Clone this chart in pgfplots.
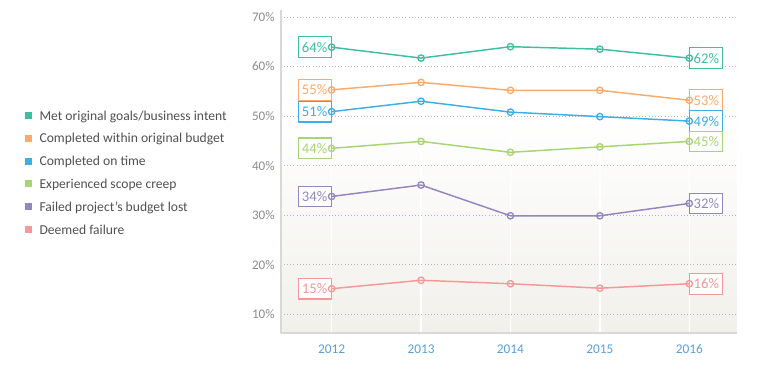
\documentclass[border=0pt]{standalone}
\usepackage{pgfplots}
\pgfplotsset{compat=1.18}
\usepackage{fontspec}
\setmainfont{Carlito}
\definecolor{c1}{HTML}{3EBFA1}
\definecolor{c2}{HTML}{FBAA6B}
\definecolor{c3}{HTML}{3DAEE6}
\definecolor{c4}{HTML}{A8D474}
\definecolor{c5}{HTML}{9287BE}
\definecolor{c6}{HTML}{F59896}
\definecolor{txt}{HTML}{505050}
\definecolor{ytk}{HTML}{8A8A8A}
\definecolor{xtk}{HTML}{5A9FD4}
\definecolor{axl}{HTML}{D8D8D8}
\definecolor{bgb}{HTML}{F1F0EB}
\definecolor{grd}{HTML}{B5B5B5}
\begin{document}
\begin{tikzpicture}
\begin{axis}[
  at={(210.5pt,29.75pt)}, anchor=south west,
  scale only axis, width=342pt, height=242.5pt,
  set layers,
  xmin=2011.43, xmax=2016.53, ymin=6.2, ymax=71.4,
  axis x line=bottom, axis y line=left,
  axis line style={axl, line width=1.6pt, -},
  xtick={2012,2013,2014,2015,2016},
  ytick={10,20,30,40,50,60,70},
  major tick length=0pt,
  /pgf/number format/assume math mode=true,
  xticklabel={\pgfmathprintnumber[1000 sep={}]{\tick}},
  yticklabel={\pgfmathprintnumber{\tick}\%},
  xticklabel style={font=\fontsize{10}{11}\selectfont, text=xtk, yshift=-5pt},
  yticklabel style={font=\fontsize{9.8}{11}\selectfont, text=ytk, xshift=-1pt},
  xmajorgrids, ymajorgrids,
  x grid style={white, line width=1pt},
  y grid style={dotted, grd, line width=0.6pt},
  legend image code/.code={\fill[#1, draw=none] (0pt,-2.6pt) rectangle (5.2pt,2.6pt);},
  legend cell align=left,
  legend style={at={(-0.5607,0.693)}, anchor=north west, draw=none, fill=none,
    inner sep=0pt, row sep=8.1pt, font=\fontsize{10.2}{12}\selectfont, text=txt,
    nodes={inner sep=0pt, text height=8pt, text depth=1pt},
    /tikz/every odd column/.append style={column sep=5.5pt}},
  every axis plot/.append style={line width=1.1pt, mark=o, mark size=2.4pt, mark options={fill=white, solid, line width=1pt}},
  lbl/.style={only marks, mark=none, point meta=explicit symbolic, nodes near coords,
    every node near coord/.append style={draw=#1, fill=white, text=#1, line width=0.8pt,
      minimum width=24.75pt, minimum height=15.5pt, inner sep=0pt,
      font=\fontsize{11}{12}\selectfont}},
  lblL/.style={lbl=#1, every node near coord/.append style={anchor=east}},
  lblR/.style={lbl=#1, every node near coord/.append style={anchor=west}},
]
\pgfplotsextra{%
  \begin{pgfonlayer}{axis background}
  \shade[top color=white, bottom color=bgb] (axis cs:2011.43,6.2) rectangle (axis cs:2016.53,50);
  \end{pgfonlayer}}
\addlegendimage{fill=c1}\addlegendentry{Met original goals/business intent}
\addlegendimage{fill=c2}\addlegendentry{Completed within original budget}
\addlegendimage{fill=c3}\addlegendentry{Completed on time}
\addlegendimage{fill=c4}\addlegendentry{Experienced scope creep}
\addlegendimage{fill=c5}\addlegendentry{Failed project's budget lost}
\addlegendimage{fill=c6}\addlegendentry{Deemed failure}
% labels
\addplot[lblL=c1, forget plot] coordinates {(2012,63.9) [64\%]};
\addplot[lblR=c1, forget plot] coordinates {(2016,61.7) [62\%]};
\addplot[lblL=c2, forget plot] coordinates {(2012,55.3) [55\%]};
\addplot[lblR=c2, forget plot] coordinates {(2016,53.2) [53\%]};
\addplot[lblL=c3, forget plot] coordinates {(2012,50.9) [51\%]};
\addplot[lblR=c3, forget plot] coordinates {(2016,49.0) [49\%]};
\addplot[lblL=c4, forget plot] coordinates {(2012,43.5) [44\%]};
\addplot[lblR=c4, forget plot] coordinates {(2016,44.9) [45\%]};
\addplot[lblL=c5, forget plot] coordinates {(2012,33.8) [34\%]};
\addplot[lblR=c5, forget plot] coordinates {(2016,32.4) [32\%]};
\addplot[lblL=c6, forget plot] coordinates {(2012,15.2) [15\%]};
\addplot[lblR=c6, forget plot] coordinates {(2016,16.2) [16\%]};
% lines
\addplot[c1, forget plot] coordinates {(2012,63.9) (2013,61.7) (2014,64.0) (2015,63.5) (2016,61.7)};
\addplot[c2, forget plot] coordinates {(2012,55.3) (2013,56.8) (2014,55.2) (2015,55.2) (2016,53.2)};
\addplot[c3, forget plot] coordinates {(2012,50.9) (2013,53.0) (2014,50.8) (2015,49.9) (2016,49.0)};
\addplot[c4, forget plot] coordinates {(2012,43.5) (2013,44.9) (2014,42.7) (2015,43.8) (2016,44.9)};
\addplot[c5, forget plot] coordinates {(2012,33.8) (2013,36.1) (2014,29.9) (2015,29.9) (2016,32.4)};
\addplot[c6, forget plot] coordinates {(2012,15.2) (2013,16.9) (2014,16.2) (2015,15.3) (2016,16.2)};
\end{axis}
\path[use as bounding box] (0,0) rectangle (574.5pt,279.75pt);
\end{tikzpicture}
\end{document}
